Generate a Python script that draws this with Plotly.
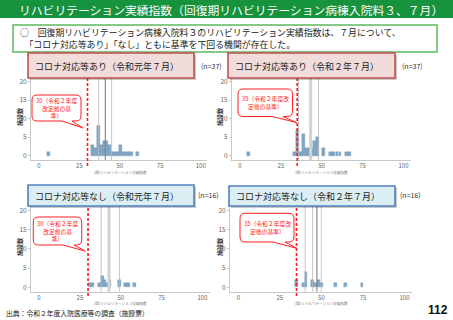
import plotly.graph_objects as go

W, H = 453, 320
def fx(p): return p / W
def fy(p): return 1 - p / H

# ---------------- data ----------------
title_text = "リハビリテーション実績指数（回復期リハビリテーション病棟入院料３、７月）"
box_line1 = "回復期リハビリテーション病棟入院料３のリハビリテーション実績指数は、７月について、"
box_line2 = "「コロナ対応等あり」「なし」ともに基準を下回る機関が存在した。"
source_text = "出典：令和２年度入院医療等の調査（施設票）"
page_no = "112"
x_title = "(回)リハビリテーション実績指数"
y_title = "施設数"
x_ticks = [0, 25, 50, 75, 100]
y_ticks = [0, 5, 10, 15, 20]

panel_titles = ["コロナ対応等あり（令和元年７月）", "コロナ対応等あり（令和２年７月）",
                "コロナ対応等なし（令和元年７月）", "コロナ対応等なし（令和２年７月）"]
panel_n = ["(n=37)", "(n=37)", "(n=16)", "(n=16)"]
thresholds = [30, 35, 30, 35]
callout_texts = ["30（令和２年度<br>改定前の基<br>準）", "35（令和２年度改<br>定後の基準）",
                 "30（令和２年度<br>改定前の基<br>準）", "35（令和２年度改<br>定後の基準）"]

tl_centers = [5.8, 33.3, 35.0, 36.7, 38.5, 40.2, 41.9, 43.6, 45.4, 47.1, 48.8, 50.5, 52.3, 54.0, 55.7, 57.4, 61.0]
tl_counts  = [1, 3, 2, 8, 3, 4, 4, 3, 1, 1, 1, 3, 1, 1, 1, 1, 1]
tr_centers = [5.1, 33.5, 35.1, 36.9, 38.8, 40.6, 42.3, 43.9, 45.5, 47.3, 51.0, 55.5, 57.4, 59.3, 61.2, 65.2, 67.2]
tr_counts  = [1, 1, 7, 1, 6, 2, 2, 2, 4, 5, 2, 1, 1, 1, 1, 1, 1]
bl_centers = [31.4, 33.0, 36.9, 38.6, 40.3, 41.8, 43.4, 49.0, 53.0, 54.6, 58.6]
bl_counts  = [1, 1, 1, 3, 2, 1, 2, 2, 1, 1, 1]
br_centers = [34.8, 39.2, 40.8, 44.8, 46.6, 48.4, 50.1, 58.4, 64.4, 74.4]
br_counts  = [2, 1, 4, 2, 1, 2, 1, 1, 1, 1]

tl_stats = [36.9, 41.0, 44.9]
tr_stats = [35.8, 43.2, 48.0]
bl_stats = [38.0, 42.8, 49.2]
br_stats = [40.2, 44.7, 47.3, 49.9]

# ---------------- layout config (pixel geometry) ----------------
panels = [
    dict(centers=tl_centers, counts=tl_counts, stats=tl_stats, styles=["t", "d", "t"], bw=1.72,
         xd=(31, 207.2), yd=(160, 77), xr=(-4.95, 104.0), yr=(-1.16, 21.27),
         hdr=(28, 53, 194, 78), hcol=("#f2dcdb", "#c0504d"), ntx=(211, 66),
         call=(32, 95, 81, 121, 62, 72, 83, 128), red=(78, 166), ytl=(19, 117), xtl=(120.5, 172)),
    dict(centers=tr_centers, counts=tr_counts, stats=tr_stats, styles=["t", "b", "t"], bw=1.75,
         xd=(232, 411), yd=(160, 77), xr=(-4.9, 104.6), yr=(-1.16, 21.27),
         hdr=(228, 53, 395, 78), hcol=("#f2dcdb", "#c0504d"), ntx=(412, 66),
         call=(238, 89, 292.5, 116.5, 272, 283, 296.5, 122.5), red=(78, 166), ytl=(219, 117), xtl=(321.5, 172)),
    dict(centers=bl_centers, counts=bl_counts, stats=bl_stats, styles=["t", "b", "t"], bw=1.7,
         xd=(31, 210), yd=(291.7, 206), xr=(-4.9, 104.6), yr=(-1.15, 21.2),
         hdr=(28, 185, 194, 206), hcol=("#dbeef4", "#4f81bd"), ntx=(208, 195),
         call=(33.3, 217, 81.7, 245, 63, 74, 85, 251), red=(206, 296), ytl=(19, 247), xtl=(120.5, 303.5)),
    dict(centers=br_centers, counts=br_counts, stats=br_stats, styles=["t", "t", "d", "t"], bw=1.65,
         xd=(230, 411.5), yd=(291.7, 206), xr=(-5.0, 104.2), yr=(-1.15, 21.2),
         hdr=(229, 186, 395, 206), hcol=("#dbeef4", "#4f81bd"), ntx=(410, 195),
         call=(240, 213.3, 294, 242, 273, 285, 296.7, 248.3), red=(206, 296), ytl=(219, 247), xtl=(321, 303.5)),
]

FONT = "Noto Sans CJK JP, Noto Sans, sans-serif"
fig = go.Figure()
shapes = []
annotations = []
layout_axes = {}

def callout_path(x0, y0, x1, y1, b1, b2, tx, ty, r=5):
    pts = [
        f"M{fx(x0+r)},{fy(y0)}", f"L{fx(x1-r)},{fy(y0)}", f"Q{fx(x1)},{fy(y0)} {fx(x1)},{fy(y0+r)}",
        f"L{fx(x1)},{fy(y1-r)}", f"Q{fx(x1)},{fy(y1)} {fx(x1-r)},{fy(y1)}",
        f"L{fx(b2)},{fy(y1)}", f"L{fx(tx)},{fy(ty)}", f"L{fx(b1)},{fy(y1)}",
        f"L{fx(x0+r)},{fy(y1)}", f"Q{fx(x0)},{fy(y1)} {fx(x0)},{fy(y1-r)}",
        f"L{fx(x0)},{fy(y0+r)}", f"Q{fx(x0)},{fy(y0)} {fx(x0+r)},{fy(y0)}", "Z"]
    return " ".join(pts)

for i, p in enumerate(panels):
    k = "" if i == 0 else str(i + 1)
    xa, ya = "x" + k, "y" + k
    fig.add_trace(go.Bar(x=p["centers"], y=p["counts"], width=p["bw"], xaxis=xa, yaxis=ya,
                         marker=dict(color="#82a8c6", line=dict(color="#6d93b1", width=0.4)),
                         showlegend=False, hoverinfo="skip"))
    layout_axes["xaxis" + k] = dict(domain=[fx(p["xd"][0]), fx(p["xd"][1])], range=list(p["xr"]),
                                    anchor=ya, tickvals=x_ticks, showgrid=False, zeroline=False,
                                    showline=True, linecolor="#c8c8c8", linewidth=1,
                                    ticks="", ticklen=0,
                                    tickfont=dict(size=6, color="#666666", family=FONT), fixedrange=True)
    layout_axes["yaxis" + k] = dict(domain=[fy(p["yd"][0]), fy(p["yd"][1])], range=list(p["yr"]),
                                    anchor=xa, tickvals=y_ticks, showgrid=False, zeroline=False,
                                    showline=True, linecolor="#c8c8c8", linewidth=1,
                                    ticks="outside", ticklen=2, tickcolor="#c8c8c8",
                                    tickfont=dict(size=6.5, color="#666666", family=FONT), fixedrange=True)
    for v, s in zip(p["stats"], p["styles"]):
        if s == "t":
            ln = dict(color="#b8b8b8", width=0.8)
        elif s == "d":
            ln = dict(color="#8a7f7f", width=1.1)
        else:
            ln = dict(color="#d2d2d2", width=3)
        shapes.append(dict(type="line", xref=xa, yref=ya + " domain", x0=v, x1=v, y0=0, y1=1,
                           line=ln, layer="above"))
    shapes.append(dict(type="line", xref=xa, yref="paper", x0=thresholds[i], x1=thresholds[i],
                       y0=fy(p["red"][1]), y1=fy(p["red"][0]),
                       line=dict(color="#ff1a1a", width=1.6, dash="3px,2px"), layer="above"))
    hx0, hy0, hx1, hy1 = p["hdr"]
    shapes.append(dict(type="rect", xref="paper", yref="paper", x0=fx(hx0 + 2), x1=fx(hx1 + 2),
                       y0=fy(hy1 + 2), y1=fy(hy0 + 2), fillcolor="rgba(0,0,0,0.22)",
                       line=dict(width=0), layer="above"))
    shapes.append(dict(type="rect", xref="paper", yref="paper", x0=fx(hx0), x1=fx(hx1),
                       y0=fy(hy1), y1=fy(hy0), fillcolor=p["hcol"][0],
                       line=dict(color=p["hcol"][1], width=1.6), layer="above"))
    annotations.append(dict(text=panel_titles[i], xref="paper", yref="paper", x=fx(hx0 + 5),
                            y=fy((hy0 + hy1) / 2 + 0.5), xanchor="left", yanchor="middle", showarrow=False,
                            font=dict(size=9, color="#222222", family=FONT)))
    annotations.append(dict(text=panel_n[i], xref="paper", yref="paper", x=fx(p["ntx"][0]),
                            y=fy(p["ntx"][1]), xanchor="center", yanchor="middle", showarrow=False,
                            font=dict(size=7, color="#333333", family=FONT)))
    c = p["call"]
    shapes.append(dict(type="path", xref="paper", yref="paper", path=callout_path(*c),
                       fillcolor="white", line=dict(color="#ff2020", width=1), layer="above"))
    annotations.append(dict(text=callout_texts[i], xref="paper", yref="paper",
                            x=fx((c[0] + c[2]) / 2), y=fy((c[1] + c[3]) / 2), xanchor="center",
                            yanchor="middle", showarrow=False,
                            font=dict(size=5.8, color="#ff2020", family=FONT)))
    annotations.append(dict(text="<b>" + y_title + "</b>", xref="paper", yref="paper", x=fx(p["ytl"][0]),
                            y=fy(p["ytl"][1]), xanchor="center", yanchor="middle", textangle=-90,
                            showarrow=False, font=dict(size=6, color="#333333", family=FONT)))
    annotations.append(dict(text=x_title, xref="paper", yref="paper", x=fx(p["xtl"][0]),
                            y=fy(p["xtl"][1]), xanchor="center", yanchor="middle", showarrow=False,
                            font=dict(size=3.6, color="#777777", family=FONT)))

deco = [
    dict(type="rect", xref="paper", yref="paper", x0=0, x1=1, y0=fy(18), y1=1,
         fillcolor="#17923d", line=dict(width=0), layer="below"),
    dict(type="rect", xref="paper", yref="paper", x0=fx(13), x1=fx(437), y0=fy(52), y1=fy(25),
         fillcolor="white", line=dict(color="#5cb85c", width=1.5), layer="below"),
]
shapes = deco + shapes

annotations += [
    dict(text=title_text, xref="paper", yref="paper", x=fx(17), y=fy(9.5), xanchor="left",
         yanchor="middle", showarrow=False, font=dict(size=11.8, color="white", family=FONT)),
    dict(text="○　" + box_line1 + "<br>　" + box_line2, xref="paper", yref="paper", x=fx(18.5),
         y=fy(38.5), xanchor="left", yanchor="middle", align="left", showarrow=False, borderpad=0,
         font=dict(size=8.9, color="#222222", family=FONT)),
    dict(text=source_text, xref="paper", yref="paper", x=fx(4), y=fy(312.5), xanchor="left",
         yanchor="middle", showarrow=False, font=dict(size=6.8, color="#222222", family=FONT)),
    dict(text="<b>" + page_no + "</b>", xref="paper", yref="paper", x=fx(450), y=fy(310),
         xanchor="right", yanchor="middle", showarrow=False,
         font=dict(size=12, color="#111111", family="Liberation Sans, Arial, sans-serif")),
]

fig.update_layout(width=W, height=H, autosize=False, margin=dict(l=0, r=0, t=0, b=0, pad=0),
                  paper_bgcolor="white", plot_bgcolor="white", bargap=0,
                  font=dict(family=FONT), shapes=shapes, annotations=annotations, **layout_axes)
fig.write_html("out.html", config={"displayModeBar": False})
